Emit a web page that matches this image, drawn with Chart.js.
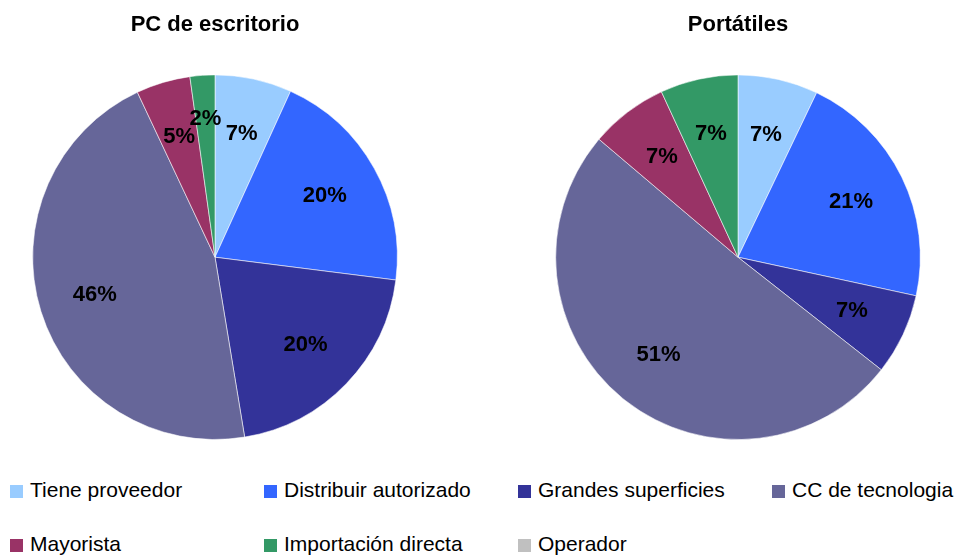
<!DOCTYPE html>
<html>
<head>
<meta charset="utf-8">
<script src="https://cdn.jsdelivr.net/npm/chart.js@4/dist/chart.umd.min.js"></script>
<style>
  body { margin: 0; background: #fff; font-family: "Liberation Sans", Arial, sans-serif; }
  #wrap { position: relative; width: 956px; height: 557px; overflow: hidden; }
  #deskChart { position: absolute; left: 0; top: 0; }
  #laptopChart { position: absolute; left: 523px; top: 0; }
  #legend { position: absolute; left: 10px; top: 478px; width: 946px; }
  .item { position: absolute; font-size: 21px; color: #000; white-space: nowrap; line-height: 24px; }
  .box { display: inline-block; width: 13px; height: 13px; margin-right: 7px; vertical-align: -1px; }
</style>
</head>
<body>
<div id="wrap">
  <canvas id="deskChart" width="430" height="440"></canvas>
  <canvas id="laptopChart" width="430" height="440"></canvas>
  <div id="legend"></div>
</div>
<script>
// Data
const channels = ['Tiene proveedor', 'Distribuir autorizado', 'Grandes superficies', 'CC de tecnologia',
                  'Mayorista', 'Importación directa', 'Operador'];
const channelColors = ['#99CCFF', '#3366FF', '#333399', '#666699', '#993366', '#339966', '#C0C0C0'];
const desktopShare = [6.8, 20.2, 20.4, 45.6, 4.8, 2.2, 0];
const laptopShare = [7.1, 21.3, 7.2, 50.6, 6.9, 6.9, 0];

Chart.defaults.font.family = '"Liberation Sans", Arial, sans-serif';

// percent labels inside the slices (tiny slices pushed a bit outward)
const pctLabels = {
    id: 'pctLabels',
    afterDatasetsDraw(chart) {
        const ctx = chart.ctx;
        const meta = chart.getDatasetMeta(0);
        const values = chart.data.datasets[0].data;
        ctx.save();
        ctx.font = 'bold 22px "Liberation Sans", Arial, sans-serif';
        ctx.fillStyle = '#000';
        ctx.textAlign = 'center';
        ctx.textBaseline = 'middle';
        meta.data.forEach((arc, i) => {
            if (!values[i]) return;
            const p = arc.getProps(['x', 'y', 'startAngle', 'endAngle', 'outerRadius'], true);
            const mid = (p.startAngle + p.endAngle) / 2;
            const r = p.outerRadius * (values[i] < 3 ? 0.76 : 0.69);
            ctx.fillText(Math.round(values[i]) + '%', p.x + Math.cos(mid) * r, p.y + Math.sin(mid) * r);
        });
        ctx.restore();
    }
};

const config = (title, values) => ({
    type: 'pie',
    data: {
        labels: channels,
        datasets: [{
            data: values,
            backgroundColor: channelColors,
            borderColor: 'rgba(255,255,255,0.55)',
            borderWidth: 1,
            hoverOffset: 0,
            offset: 0
        }]
    },
    options: {
        responsive: false,
        animation: false,
        layout: { padding: 0 },
        plugins: {
            legend: { display: false },
            tooltip: { enabled: false },
            title: {
                display: true,
                text: title,
                color: '#000',
                font: { size: 22, weight: 'bold' },
                padding: { top: 12, bottom: 36 }
            }
        }
    },
    plugins: [pctLabels]
});

const deskChart = new Chart(document.getElementById('deskChart').getContext('2d'), config('PC de escritorio', desktopShare));
const laptopChart = new Chart(document.getElementById('laptopChart').getContext('2d'), config('Portátiles', laptopShare));

// Shared legend, 4 columns
const legend = document.getElementById('legend');
channels.forEach((name, i) => {
    const el = document.createElement('div');
    el.className = 'item';
    el.style.left = (i % 4) * 254 + 'px';
    el.style.top = Math.floor(i / 4) * 54 + 'px';
    el.innerHTML = '<span class="box" style="background:' + channelColors[i] + '"></span>' + name;
    legend.appendChild(el);
});
</script>
</body>
</html>
